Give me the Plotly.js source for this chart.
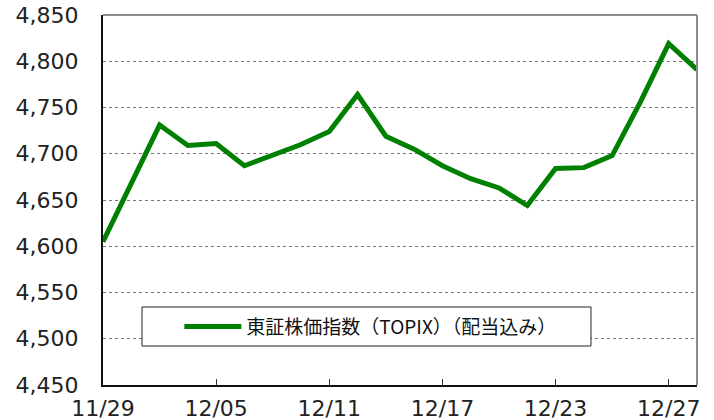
<!DOCTYPE html>
<html>
<head>
<meta charset="utf-8">
<script src="https://cdn.plot.ly/plotly-3.0.1.min.js"></script>
<style>html,body{margin:0;padding:0;background:#fff;}</style>
</head>
<body>
<div id="chart" style="width:714px;height:420px;"></div>
<script>
const dates = ["11/29","12/02","12/03","12/04","12/05","12/06","12/09","12/10","12/11","12/12","12/13",
               "12/16","12/17","12/18","12/19","12/20","12/23","12/24","12/25","12/26","12/27","12/30"];
const topix = [4605,4667,4731,4709,4711,4687,4698,4710,4724,4764,4719,
               4705,4687,4673,4663,4644,4684,4685,4698,4756,4819,4791];
const tickDates = ["11/29","12/05","12/11","12/17","12/23","12/27"];
const yTicks = [4450,4500,4550,4600,4650,4700,4750,4800,4850];
const seriesName = "東証株価指数（TOPIX）（配当込み）";

const trace = {
  x: dates, y: topix, type: "scatter", mode: "lines", name: seriesName,
  line: {color: "#008000", width: 5, shape: "linear"},
  cliponaxis: false
};

const layout = {
  width: 714, height: 420,
  margin: {l: 103, r: 17, t: 15, b: 35},
  paper_bgcolor: "#ffffff", plot_bgcolor: "#ffffff",
  font: {family: "DejaVu Sans, Verdana, sans-serif", size: 22, color: "#222"},
  showlegend: true,
  legend: {
    x: 0.1285, xanchor: "left", y: 0.158, yanchor: "middle",
    bgcolor: "rgba(0,0,0,0)", borderwidth: 0,
    font: {family: "Noto Sans CJK JP, sans-serif", size: 19, color: "#111"},
    itemwidth: 57
  },
  xaxis: {
    type: "category", range: [0, dates.length - 1],
    tickmode: "array", tickvals: tickDates, ticktext: tickDates,
    ticks: "inside", ticklen: 6, tickwidth: 1, tickcolor: "#333",
    showgrid: false, zeroline: false,
    showline: true, linecolor: "#111", linewidth: 2,
    ticklabelstandoff: 3,
    tickfont: {size: 22, color: "#222"}
  },
  yaxis: {
    range: [4450, 4850], tickmode: "array", tickvals: yTicks,
    tickformat: ",d", ticks: "",
    showgrid: true, gridcolor: "#777", gridwidth: 1, griddash: "dot",
    zeroline: false, showline: true, linecolor: "#111", linewidth: 2,
    ticklabelstandoff: 18,
    tickfont: {size: 22, color: "#222"}
  },
  shapes: [
    {type: "line", xref: "paper", yref: "paper", x0: 0, x1: 1, y0: 1, y1: 1,
     line: {color: "#8c8c8c", width: 2}},
    {type: "line", xref: "paper", yref: "paper", x0: 1, x1: 1, y0: 0, y1: 1,
     line: {color: "#8c8c8c", width: 2}},
    {type: "rect", xref: "paper", yref: "paper", x0: 0.0657, x1: 0.8215, y0: 0.1054, y1: 0.2108,
     fillcolor: "#ffffff", line: {color: "#222", width: 1}, layer: "above"}
  ]
};

Plotly.newPlot("chart", [trace], layout, {staticPlot: true, displayModeBar: false});
</script>
</body>
</html>
